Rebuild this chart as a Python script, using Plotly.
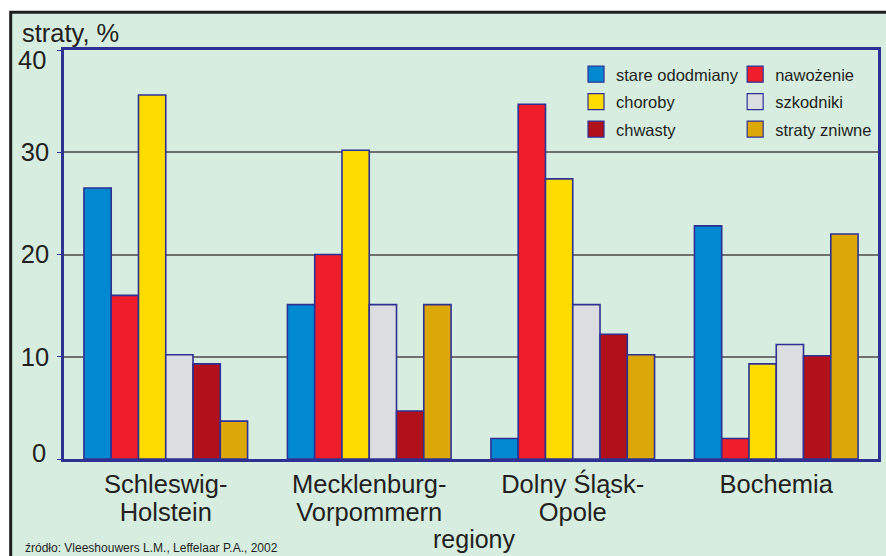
import plotly.graph_objects as go

# Regions (x-axis categories) and their label lines
regions = ["Schleswig-Holstein", "Mecklenburg-Vorpommern", "Dolny Śląsk-Opole", "Bochemia"]
label_line1 = ["Schleswig-", "Mecklenburg-", "Dolny Śląsk-", "Bochemia"]
label_line2 = ["Holstein", "Vorpommern", "Opole", ""]

# Loss shares per cause, %
stare_ododmiany = [26.5, 15.1, 2.0, 22.8]
nawozenie = [16.0, 20.0, 34.7, 2.0]
choroby = [35.6, 30.2, 27.4, 9.3]
szkodniki = [10.2, 15.1, 15.1, 11.2]
chwasty = [9.3, 4.7, 12.2, 10.1]
straty_zniwne = [3.7, 15.1, 10.2, 22.0]

y_ticks = [0, 10, 20, 30, 40]

series = [
    ("stare ododmiany", stare_ododmiany, "#0088d1", "legend"),
    ("nawożenie", nawozenie, "#ee1f2b", "legend2"),
    ("choroby", choroby, "#ffdc00", "legend"),
    ("szkodniki", szkodniki, "#dcdde0", "legend2"),
    ("chwasty", chwasty, "#b0111a", "legend"),
    ("straty zniwne", straty_zniwne, "#dba807", "legend2"),
]

NAVY = "#2e3192"
TEXT = "#231f20"
GREEN = "#d6ede0"
FONT = "Liberation Sans, Arial, sans-serif"
BIG = 25.5

fig = go.Figure()

for name, vals, color, _ in series:
    fig.add_trace(go.Bar(
        x=regions, y=vals, name=name, showlegend=False,
        marker=dict(color=color, line=dict(color=NAVY, width=1.6)),
    ))

# Legend entries with larger square swatches, split into two columns
for i, (name, vals, color, lg) in enumerate(series):
    fig.add_trace(go.Scatter(
        x=[None], y=[None], mode="markers", name=name, legend=lg,
        legendgroup=f"g{i}",
        marker=dict(symbol="square", size=18, color=color,
                    line=dict(color=NAVY, width=1.2)),
    ))

# Empty trace that carries the overlaid axis for the second label line
fig.add_trace(go.Scatter(
    x=[0, 3], y=[None, None], xaxis="x2", yaxis="y", mode="markers",
    showlegend=False, hoverinfo="skip",
))

legend_common = dict(
    orientation="v", xanchor="left", yanchor="top",
    bgcolor="rgba(0,0,0,0)", borderwidth=0,
    font=dict(family=FONT, size=16.5, color=TEXT),
    tracegroupgap=3, itemclick=False,
)

# y tick labels for the end values sit slightly inside the axis range
y_ticktext = ["" if v in (0, 40) else str(v) for v in y_ticks]
end_labels = [
    dict(text=str(v), xref="paper", yref="y", x=-0.0196, y=v,
         xanchor="right", yanchor="middle", yshift=shift, showarrow=False,
         font=dict(family=FONT, size=BIG, color=TEXT))
    for v, shift in ((40, -10), (0, 6))
]

fig.update_layout(
    width=886, height=556,
    margin=dict(l=64, r=5, t=50, b=97),
    paper_bgcolor="white",
    plot_bgcolor="white",
    barmode="group", bargap=0.196, bargroupgap=0,
    font=dict(family=FONT, size=BIG, color=TEXT),
    legend=dict(x=0.629, y=0.983, **legend_common),
    legend2=dict(x=0.8245, y=0.983, **legend_common),
    xaxis=dict(
        type="category", categoryarray=regions,
        tickmode="array", tickvals=regions, ticktext=label_line1,
        showline=True, linecolor=NAVY, linewidth=3, mirror=True,
        ticks="", ticklen=0, showgrid=False, ticklabelstandoff=0,
        tickfont=dict(family=FONT, size=BIG, color=TEXT),
    ),
    # second line of the region names
    xaxis2=dict(
        overlaying="x", side="bottom", anchor="y",
        type="linear", range=[-0.5, 3.5],
        tickmode="array", tickvals=[0, 1, 2, 3], ticktext=label_line2,
        showline=False, ticks="", ticklen=0, showgrid=False, zeroline=False,
        ticklabelstandoff=35,
        tickfont=dict(family=FONT, size=BIG, color=TEXT),
    ),
    yaxis=dict(
        range=[0, 40], tickvals=y_ticks, ticktext=y_ticktext,
        showline=True, linecolor=NAVY, linewidth=2.5, mirror=True,
        ticks="outside", ticklen=4, tickcolor=NAVY, tickwidth=1,
        ticklabelstandoff=3,
        showgrid=True, gridcolor="#707070", gridwidth=1.5,
        zeroline=False,
        tickfont=dict(family=FONT, size=BIG, color=TEXT),
    ),
    shapes=[
        # green panel with dark frame behind the plot area
        dict(type="rect", xref="paper", yref="paper",
             x0=-0.0655, x1=1.2, y0=-0.5, y1=1.0925,
             fillcolor=GREEN, line=dict(color="#1e1e1e", width=3),
             layer="below"),
    ],
    annotations=end_labels + [
        dict(text="straty, %", xref="paper", yref="paper",
             x=-0.054, y=1.041, xanchor="left", yanchor="middle",
             showarrow=False, font=dict(family=FONT, size=BIG, color=TEXT)),
        dict(text="regiony", xref="paper", yref="paper",
             x=0.504, y=-0.196, xanchor="center", yanchor="middle",
             showarrow=False, font=dict(family=FONT, size=25, color=TEXT)),
        dict(text="źródło: Vleeshouwers L.M., Leffelaar P.A., 2002",
             xref="paper", yref="paper",
             x=-0.0505, y=-0.2176, xanchor="left", yanchor="middle",
             showarrow=False, font=dict(family=FONT, size=12, color=TEXT)),
    ],
)

fig.write_html("out.html")
